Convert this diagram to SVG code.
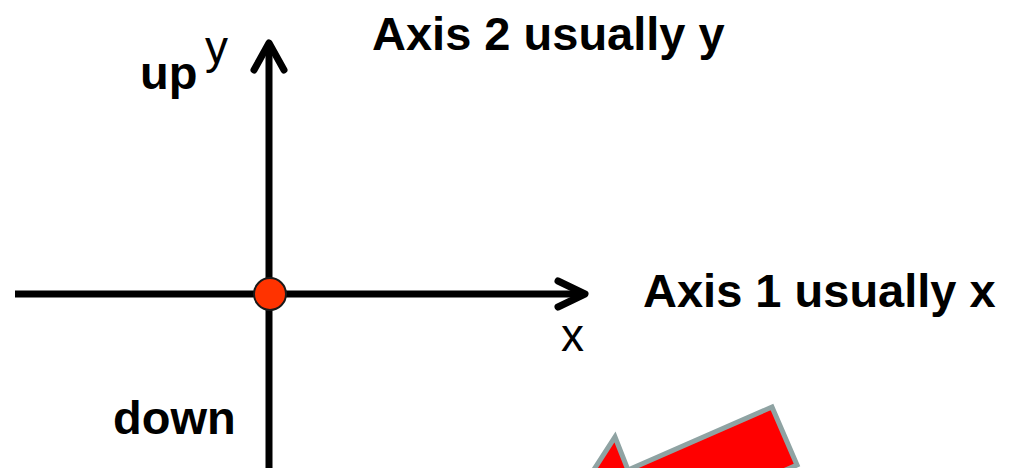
<svg xmlns="http://www.w3.org/2000/svg" width="1011" height="468" viewBox="0 0 1011 468">
<style>
.b{font-family:"Liberation Sans",Arial,sans-serif;font-weight:bold;font-size:47px;fill:#000}
.r{font-family:"Liberation Sans",Arial,sans-serif;font-size:46px;fill:#000}
.ax{stroke:#000;stroke-width:7;fill:none;stroke-linecap:round;stroke-linejoin:round}
</style>
<rect width="1011" height="468" fill="#fff"/>
<g id="connectors">
<line class="ax" x1="15" y1="294" x2="584" y2="294" style="stroke-linecap:butt"/>
<polyline class="ax" points="558,281 585,294 558,307"/>
<line class="ax" x1="269" y1="470" x2="269" y2="45" style="stroke-linecap:butt"/>
<polyline class="ax" points="254,70 269,43 284,70"/>
</g>
<g id="origin">
<circle cx="270" cy="294" r="16" fill="#ff3300" stroke="#1a1a1a" stroke-width="2"/>
</g>
<g id="axis2-label">
<text class="b" x="372" y="50">Axis 2 usually y</text>
</g>
<g id="up-label">
<text class="b" x="140" y="89">up</text>
<text class="r" x="205" y="63">y</text>
</g>
<g id="axis1-label">
<text class="b" x="643" y="307">Axis 1 usually x</text>
<text class="r" x="561" y="351">x</text>
</g>
<g id="down-label">
<text class="b" x="113" y="434">down</text>
</g>
<g id="red-arrow">
<polygon points="772,407 797,465 653,528 668,562 549,539 615,437 628,470" fill="#ff0000" stroke="#8fa3a3" stroke-width="5" stroke-linejoin="miter"/>
</g>
</svg>
